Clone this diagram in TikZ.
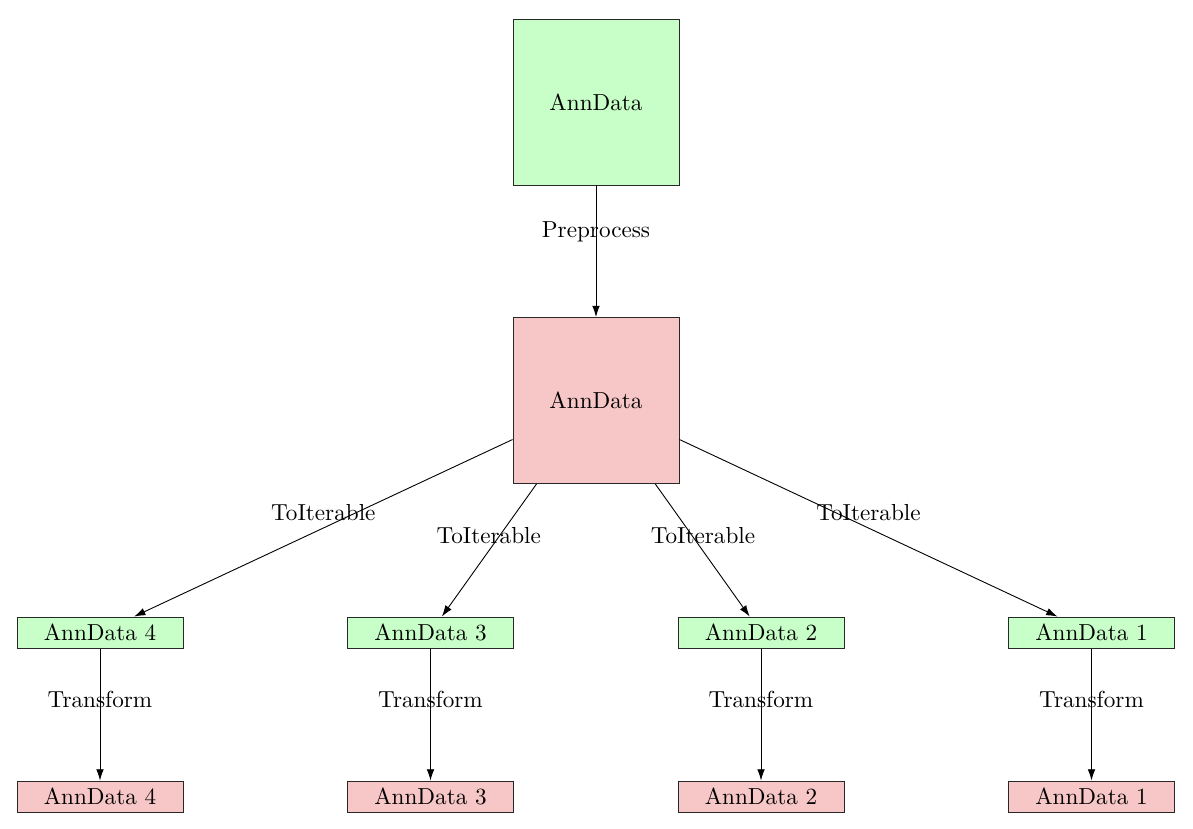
\documentclass[tikz,border=0pt]{standalone}
\usetikzlibrary{arrows.meta}
\definecolor{boxgreen}{RGB}{200,255,200}
\definecolor{boxpink}{RGB}{247,198,198}
\definecolor{edgegray}{RGB}{40,40,40}
\begin{document}
\begin{tikzpicture}[x=0.4444pt,y=-0.4444pt,
  every node/.style={font=\fontsize{10.3pt}{12pt}\selectfont},
  bigbox/.style={draw=edgegray,thin,minimum width=73.8pt,minimum height=73.8pt,inner sep=0pt},
  smallbox/.style={draw=edgegray,thin,minimum width=73.8pt,minimum height=13.8pt,inner sep=0pt},
  gbox/.style={fill=boxgreen},
  pbox/.style={fill=boxpink},
  arr/.style={draw=black,thin,-{Latex[length=5pt,width=3.4pt]}},
  lab/.style={inner sep=0pt}]
\useasboundingbox (0,0) rectangle (1193,828);
\node[bigbox,gbox] (top) at (596,102) {AnnData};
\node[bigbox,pbox] (mid) at (596,400.5) {AnnData};
\foreach \i/\x in {4/100,3/430.5,2/761,1/1091.5}{
  \node[smallbox,gbox] (g\i) at (\x,632.5) {AnnData \i};
  \node[smallbox,pbox] (p\i) at (\x,796.5) {AnnData \i};
  \draw[arr] (g\i) -- node[lab,pos=0.383]{Transform} (p\i);
}
\draw[arr] (top) -- node[lab,pos=0.353]{Preprocess} (mid);
\draw[arr] (mid) -- node[lab,pos=0.5,yshift=6.7pt]{ToIterable} (g4);
\draw[arr] (mid) -- node[lab,pos=0.388,xshift=-4.9pt]{ToIterable} (g3);
\draw[arr] (mid) -- node[lab,pos=0.388,xshift=4.9pt]{ToIterable} (g2);
\draw[arr] (mid) -- node[lab,pos=0.5,yshift=6.7pt]{ToIterable} (g1);
\end{tikzpicture}
\end{document}
